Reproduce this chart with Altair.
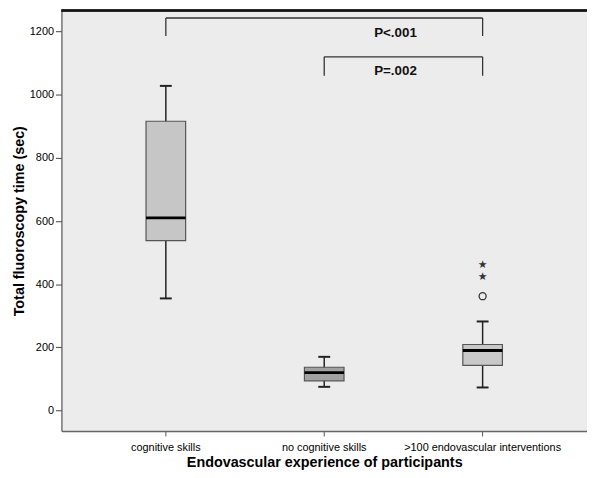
import altair as alt
import pandas as pd

groups = ["cognitive skills", "no cognitive skills", ">100 endovascular interventions"]
whisker_low = [355, 75, 73]
q1 = [538, 94, 143]
median = [610, 120, 190]
q3 = [916, 137, 209]
whisker_high = [1028, 170, 282]
box_fill = ["#c6c6c6", "#a2a2a2", "#c8c8c8"]

outlier_group = [">100 endovascular interventions"]
outlier_circle = [362]
extreme_group = [">100 endovascular interventions", ">100 endovascular interventions"]
extreme_values = [424, 462]

bracket_from = ["cognitive skills", "no cognitive skills"]
bracket_to = [">100 endovascular interventions", ">100 endovascular interventions"]
bracket_top = [1243, 1120]
bracket_bottom = [1186, 1060]
p_labels = ["P<.001", "P=.002"]
p_label_y = [1196, 1076]

font = "Liberation Sans"

boxes = pd.DataFrame({"g": groups, "lo": whisker_low, "q1": q1, "med": median,
                      "q3": q3, "hi": whisker_high, "fill": box_fill})
out_df = pd.DataFrame({"g": outlier_group, "v": outlier_circle})
ext_df = pd.DataFrame({"g": extreme_group, "v": extreme_values})
br_df = pd.DataFrame({"a": bracket_from, "b": bracket_to, "top": bracket_top,
                      "bot": bracket_bottom, "label": p_labels, "ly": p_label_y})

xscale = alt.Scale(domain=groups, paddingInner=0.75, paddingOuter=0.534)
yscale = alt.Scale(domain=[-65, 1267], nice=False, zero=False)

X = alt.X("g:N", scale=xscale, sort=groups,
          axis=alt.Axis(title="Endovascular experience of participants", labelAngle=0,
                        labelFont=font, labelFontSize=11, labelColor="#000",
                        titleFont=font, titleFontSize=14.5, titleFontWeight="bold",
                        titleColor="#000", titlePadding=3, tickColor="#555",
                        tickSize=5, domainColor="#666", domainWidth=1.5,
                        labelPadding=6))
Y = alt.Y("lo:Q", scale=yscale,
          axis=alt.Axis(title="Total fluoroscopy time (sec)", values=[0, 200, 400, 600, 800, 1000, 1200],
                        format="d",
                        grid=False, labelFont=font, labelFontSize=11, labelColor="#000",
                        titleFont=font, titleFontSize=14.5, titleFontWeight="bold",
                        titleColor="#000", titlePadding=3, tickColor="#444",
                        tickSize=6, domainColor="#555", domainWidth=1.2, labelPadding=2))

base = alt.Chart(boxes)

whisker = base.mark_rule(color="#222", strokeWidth=1.5).encode(x=X, y=Y, y2="hi:Q")
box = base.mark_bar(stroke="#555", strokeWidth=1.2).encode(
    x=X, y=alt.Y("q1:Q", scale=yscale), y2="q3:Q",
    fill=alt.Fill("fill:N", scale=None))
caps_lo = base.mark_tick(color="#222", size=12, thickness=2, opacity=1).encode(x=X, y=alt.Y("lo:Q", scale=yscale))
caps_hi = base.mark_tick(color="#222", size=12, thickness=2, opacity=1).encode(x=X, y=alt.Y("hi:Q", scale=yscale))
med = base.mark_tick(color="#000", size=40, thickness=3, opacity=1).encode(x=X, y=alt.Y("med:Q", scale=yscale))

outl = alt.Chart(out_df).mark_point(shape="circle", size=50, filled=False,
                                    color="#333", strokeWidth=1.3, opacity=1).encode(
    x=X, y=alt.Y("v:Q", scale=yscale))
ext = alt.Chart(ext_df).mark_text(text="★", fontSize=11, color="#333", font="DejaVu Sans").encode(
    x=X, y=alt.Y("v:Q", scale=yscale))

br = alt.Chart(br_df)
br_h = br.mark_rule(color="#333", strokeWidth=1.3).encode(
    x=alt.X("a:N", scale=xscale), x2="b:N", y=alt.Y("top:Q", scale=yscale))
br_l = br.mark_rule(color="#333", strokeWidth=1.3).encode(
    x=alt.X("a:N", scale=xscale), y=alt.Y("top:Q", scale=yscale), y2="bot:Q")
br_r = br.mark_rule(color="#333", strokeWidth=1.3).encode(
    x=alt.X("b:N", scale=xscale), y=alt.Y("top:Q", scale=yscale), y2="bot:Q")
br_t = br.mark_text(font=font, fontSize=13.5, fontWeight="bold", color="#111", dx=72).encode(
    x=alt.X("bracket_mid:N", scale=xscale), y=alt.Y("ly:Q", scale=yscale), text="label:N"
).transform_calculate(bracket_mid="'no cognitive skills'")

top_line = alt.Chart(boxes).mark_rule(color="#111", strokeWidth=2).encode(
    x=alt.value(0), x2=alt.value(531), y=alt.value(0))

chart = alt.layer(whisker, box, caps_lo, caps_hi, med, outl, ext, br_h, br_l, br_r, br_t, top_line).properties(
    width=531, height=425,
    autosize=alt.AutoSizeParams(type="none"),
    padding={"left": 54, "top": 0, "right": 0, "bottom": 45},
    background="white",
).configure_view(fill="#ececec", stroke=None).configure_axis(labelFont=font)

chart.save("out.html", embed_options={"renderer": "svg", "actions": False})
